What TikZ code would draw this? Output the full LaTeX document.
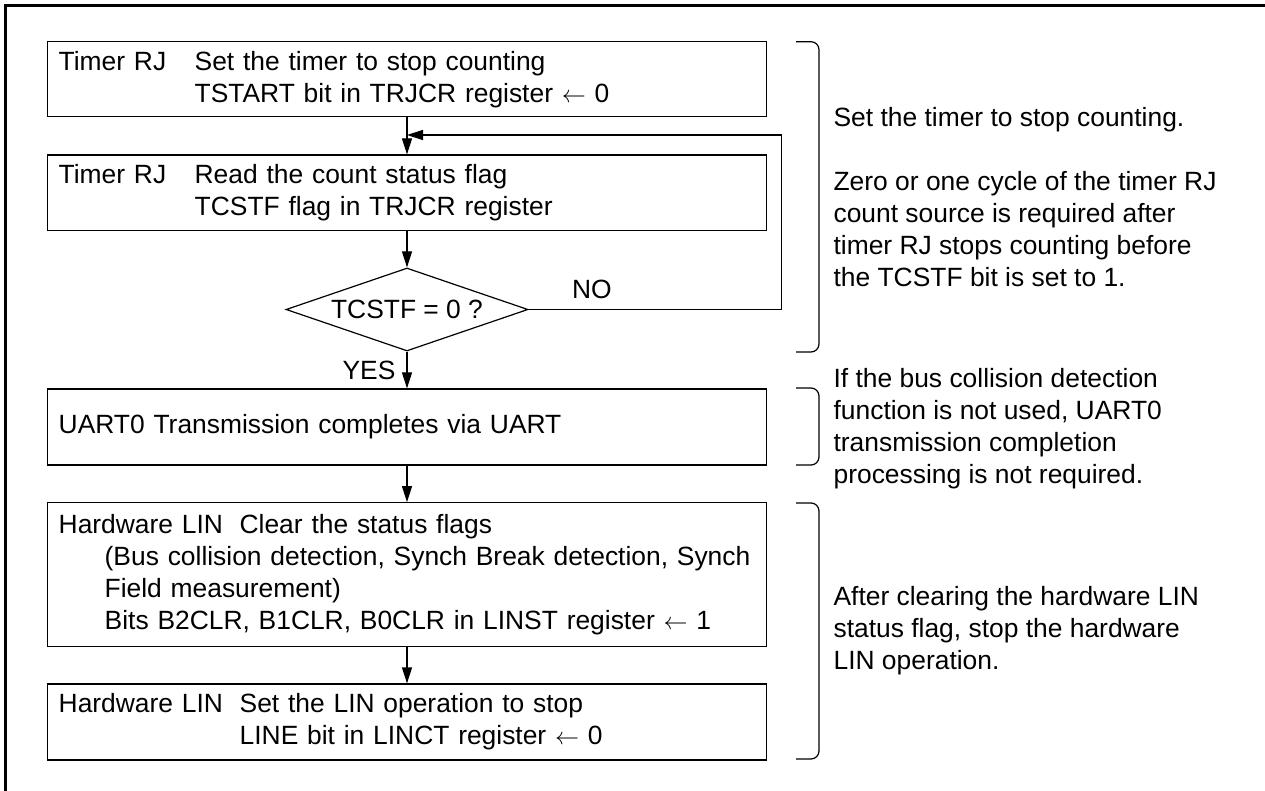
\documentclass[tikz,border=0pt]{standalone}
\usepackage{fontspec}
\setmainfont{Liberation Sans}
\usepackage{tikz}
\usetikzlibrary{shapes.geometric, arrows.meta}

\begin{document}
\begin{tikzpicture}[x=0.5pt, y=-0.5pt,
  box/.style={draw, line width=0.6pt, minimum width=359.5pt, text width=348.5pt,
              inner xsep=5.5pt, inner ysep=0pt, align=left},
  dec/.style={draw, diamond, line width=0.6pt, minimum width=121pt,
              minimum height=41.5pt, inner sep=0pt, aspect=2.9},
  arr/.style={-{Triangle[length=8pt, width=5pt]}, line width=0.6pt},
  brc/.style={line width=0.6pt, rounded corners=4pt},
  note/.style={right=7pt, inner sep=0pt, align=left},
  font=\fontsize{13.2pt}{16pt}\selectfont]
\useasboundingbox (0,0) rectangle (1265,791);
\draw[line width=1.65pt] (5.5,791) -- (5.5,5.5) -- (1265,5.5);

\node[box, minimum height=37.5pt] (b1) at (407.2,79.2)
  {\makebox[68pt][l]{Timer RJ}Set the timer to stop counting\\
   \hspace*{68pt}TSTART bit in TRJCR register $\leftarrow$ 0};
\node[box, minimum height=37.8pt] (b2) at (407.2,192.8)
  {\makebox[68pt][l]{Timer RJ}Read the count status flag\\
   \hspace*{68pt}TCSTF flag in TRJCR register};
\node[dec] (dia) at (407,309.5) {TCSTF = 0 ?};
\node[box, minimum height=38pt] (b3) at (407.2,427)
  {UART0 Transmission completes via UART};
\node[box, minimum height=72pt] (b4) at (407.2,574.7)
  {\makebox[90.5pt][l]{Hardware LIN}Clear the status flags\\
   \hspace*{23pt}(Bus collision detection, Synch Break detection, Synch\\
   \hspace*{23pt}Field measurement)\\
   \hspace*{23pt}Bits B2CLR, B1CLR, B0CLR in LINST register $\leftarrow$ 1};
\node[box, minimum height=38pt] (b5) at (407.2,722)
  {\makebox[90.5pt][l]{Hardware LIN}Set the LIN operation to stop\\
   \hspace*{90.5pt}LINE bit in LINCT register $\leftarrow$ 0};

\coordinate (jn) at (407,135);
\coordinate (lp) at (781.7,309.5);

\draw[arr] (b1.south -| dia.north) -- (b2.north -| dia.north);
\draw[arr] (b2.south -| dia.north) -- (dia.north);
\draw[arr] (dia.east) -- node[above, pos=0.25, inner sep=5pt]{NO} (lp) |- (jn);
\draw[arr] (dia.south) -- node[left, inner sep=5.5pt]{YES} (b3.north -| dia.south);
\draw[arr] (b3.south -| dia.south) -- (b4.north -| dia.south);
\draw[arr] (b4.south -| dia.south) -- (b5.north -| dia.south);

% notes
\draw[brc] (796,41.7) -- (819,41.7) -- node[note]
  {Set the timer to stop counting.\\[16pt]
   Zero or one cycle of the timer RJ\\
   count source is required after\\
   timer RJ stops counting before\\
   the TCSTF bit is set to 1.} (819,352) -- (796,352);
\draw[brc] (796,388) -- (819,388) -- node[note, yshift=-1.2pt]
  {If the bus collision detection\\
   function is not used, UART0\\
   transmission completion\\
   processing is not required.} (819,465) -- (796,465);
\draw[brc] (796,503) -- (819,503) -- node[note]
  {After clearing the hardware LIN\\
   status flag, stop the hardware\\
   LIN operation.} (819,759) -- (796,759);
\end{tikzpicture}
\end{document}
